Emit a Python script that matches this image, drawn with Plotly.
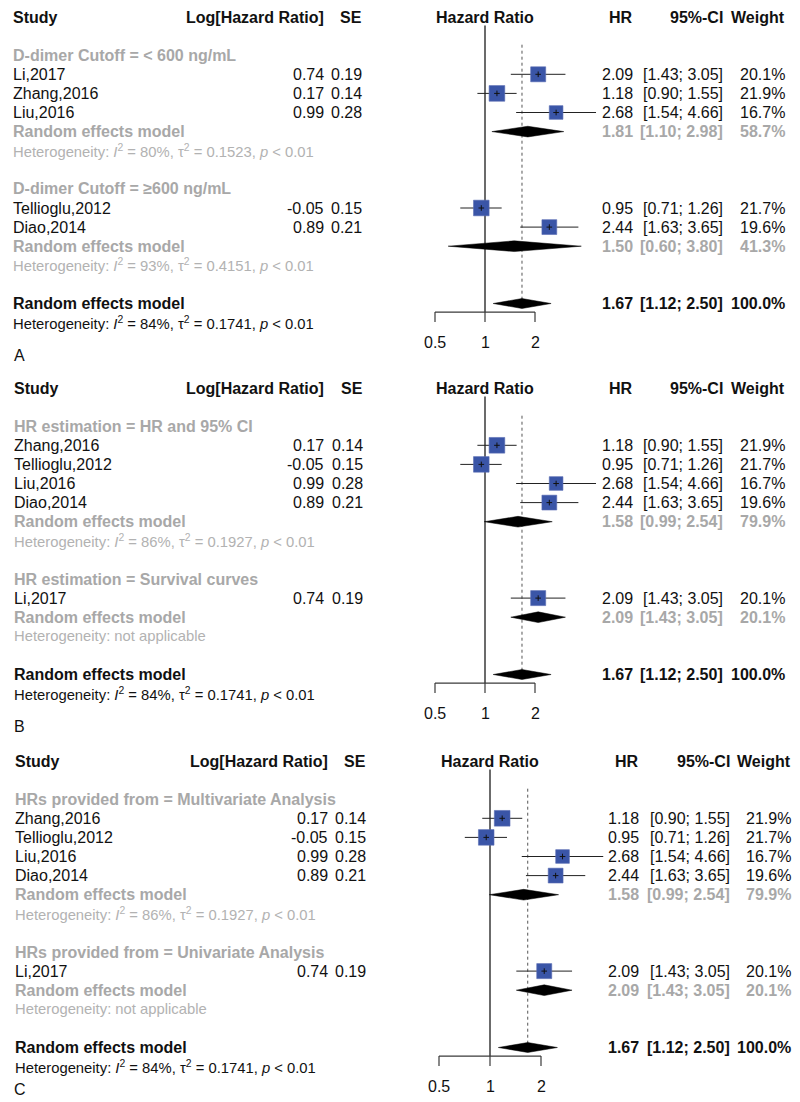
import numpy as np
import plotly.graph_objects as go

W, H = 800, 1102
FONT = "Liberation Sans, Arial, Helvetica, sans-serif"

# study level data
study = ["Li,2017", "Zhang,2016", "Liu,2016", "Tellioglu,2012", "Diao,2014"]
log_hr = [0.74, 0.17, 0.99, -0.05, 0.89]
se = [0.19, 0.14, 0.28, 0.15, 0.21]
hr = [2.09, 1.18, 2.68, 0.95, 2.44]
ci_low = [1.43, 0.90, 1.54, 0.71, 1.63]
ci_high = [3.05, 1.55, 4.66, 1.26, 3.65]
weight = [20.1, 21.9, 16.7, 21.7, 19.6]

# panel A: D-dimer cutoff
a_groups = ["D-dimer Cutoff = < 600 ng/mL", "D-dimer Cutoff = ≥600 ng/mL"]
a_members = [["Li,2017", "Zhang,2016", "Liu,2016"], ["Tellioglu,2012", "Diao,2014"]]
a_hr = [1.81, 1.50]
a_lo = [1.10, 0.60]
a_hi = [2.98, 3.80]
a_w = [58.7, 41.3]
a_i2 = ["80%", "93%"]
a_tau2 = ["0.1523", "0.4151"]

# panel B: HR estimation
b_groups = ["HR estimation = HR and 95% CI", "HR estimation = Survival curves"]
b_members = [["Zhang,2016", "Tellioglu,2012", "Liu,2016", "Diao,2014"], ["Li,2017"]]
b_hr = [1.58, 2.09]
b_lo = [0.99, 1.43]
b_hi = [2.54, 3.05]
b_w = [79.9, 20.1]
b_i2 = ["86%", None]
b_tau2 = ["0.1927", None]

# panel C: HRs provided from
c_groups = ["HRs provided from = Multivariate Analysis", "HRs provided from = Univariate Analysis"]
c_members = [["Zhang,2016", "Tellioglu,2012", "Liu,2016", "Diao,2014"], ["Li,2017"]]
c_hr = [1.58, 2.09]
c_lo = [0.99, 1.43]
c_hi = [2.54, 3.05]
c_w = [79.9, 20.1]
c_i2 = ["86%", None]
c_tau2 = ["0.1927", None]

# overall random effects model
all_hr, all_lo, all_hi, all_w = 1.67, 1.12, 2.50, 100.0
all_i2, all_tau2 = "84%", "0.1741"

axis_ticks = [0.5, 1, 2]

BLACK = "#111111"
GRAY = "#a8a8a8"
HETGRAY = "#b2b2b2"
BLUE = "#3a55a7"

STEP = 19.1  # px per row

panels = [
    dict(tag="A", groups=a_groups, members=a_members, phr=a_hr, plo=a_lo, phi=a_hi, pw=a_w,
         i2=a_i2, tau2=a_tau2, top=0, bottom=367, head=17, one=485, octave=50,
         cols=dict(study=11, loghr=326, se=364, hr=635, ci=725, w=787)),
    dict(tag="B", groups=b_groups, members=b_members, phr=b_hr, plo=b_lo, phi=b_hi, pw=b_w,
         i2=b_i2, tau2=b_tau2, top=367, bottom=734, head=388, one=485, octave=50,
         cols=dict(study=12, loghr=326, se=365, hr=635, ci=725, w=787)),
    dict(tag="C", groups=c_groups, members=c_members, phr=c_hr, plo=c_lo, phi=c_hi, pw=c_w,
         i2=c_i2, tau2=c_tau2, top=734, bottom=1102, head=761, one=490, octave=51,
         cols=dict(study=13, loghr=330, se=368, hr=641, ci=732, w=793)),
]


def het_text(i2, tau2):
    if i2 is None:
        return "Heterogeneity: not applicable"
    return ("Heterogeneity: <i>I</i><sup>2</sup> = " + i2 + ", τ<sup>2</sup> = " + tau2
            + ", <i>p</i> &lt; 0.01")


def esc(s):
    return s.replace("<", "&lt;")


fig = go.Figure()
annots = []

for k, p in enumerate(panels):
    sfx = "" if k == 0 else str(k + 1)
    xa, ya = "x" + sfx, "y" + sfx
    c = p["cols"]

    def txt(x_px, row, s, anchor="left", color=BLACK, size=16, bold=False):
        if bold:
            s = "<b>" + s + "</b>"
        annots.append(dict(x=x_px / W, xref="paper", y=row, yref=ya, text=s, showarrow=False,
                           xanchor=anchor, yanchor="middle",
                           font=dict(family=FONT, size=size, color=color)))

    # header
    txt(c["study"], 0, "Study", bold=True)
    txt(c["loghr"], 0, "Log[Hazard Ratio]", "right", bold=True)
    txt(c["se"], 0, "SE", "right", bold=True)
    txt(p["one"], 0, "Hazard Ratio", "center", bold=True)
    txt(c["hr"], 0, "HR", "right", bold=True)
    txt(c["ci"], 0, "95%-CI", "right", bold=True)
    txt(c["w"], 0, "Weight", "right", bold=True)

    st_rows, st_idx = [], []
    d_x, d_y = [], []
    r = 2
    for g in range(len(p["groups"])):
        txt(c["study"], r, esc(p["groups"][g]), color=GRAY, bold=True)
        r += 1
        for name in p["members"][g]:
            i = study.index(name)
            st_rows.append(r)
            st_idx.append(i)
            txt(c["study"], r, name)
            txt(c["loghr"], r, f"{log_hr[i]:.2f}", "right")
            txt(c["se"], r, f"{se[i]:.2f}", "right")
            txt(c["hr"], r, f"{hr[i]:.2f}", "right")
            txt(c["ci"], r, f"[{ci_low[i]:.2f}; {ci_high[i]:.2f}]", "right")
            txt(c["w"], r, f"{weight[i]:.1f}%", "right")
            r += 1
        txt(c["study"], r, "Random effects model", color=GRAY, bold=True)
        txt(c["hr"], r, f"{p['phr'][g]:.2f}", "right", color=GRAY, bold=True)
        txt(c["ci"], r, f"[{p['plo'][g]:.2f}; {p['phi'][g]:.2f}]", "right", color=GRAY, bold=True)
        txt(c["w"], r, f"{p['pw'][g]:.1f}%", "right", color=GRAY, bold=True)
        d_x += [p["plo"][g], p["phr"][g], p["phi"][g], p["phr"][g], p["plo"][g], None]
        d_y += [r, r - 0.28, r, r + 0.28, r, None]
        r += 1
        txt(c["study"], r, het_text(p["i2"][g], p["tau2"][g]), color=HETGRAY, size=14.8)
        r += 2

    # overall
    txt(c["study"], r, "Random effects model", bold=True)
    txt(c["hr"], r, f"{all_hr:.2f}", "right", bold=True)
    txt(c["ci"], r, f"[{all_lo:.2f}; {all_hi:.2f}]", "right", bold=True)
    txt(c["w"], r, f"{all_w:.1f}%", "right", bold=True)
    d_x += [all_lo, all_hr, all_hi, all_hr, all_lo, None]
    d_y += [r, r - 0.26, r, r + 0.26, r, None]
    overall_row = r
    txt(c["study"], r + 1, het_text(all_i2, all_tau2), size=14.8)
    txt(12, r + 2.7 if k < 2 else r + 2.2, p["tag"])

    axis_row = overall_row + 0.45
    tick_end = axis_row + 0.52

    # reference line at HR = 1
    fig.add_trace(go.Scatter(x=[1, 1], y=[0.45, axis_row], mode="lines",
                             line=dict(color="#3a3a3a", width=1.5), xaxis=xa, yaxis=ya))
    # dotted line at pooled estimate
    fig.add_trace(go.Scatter(x=[all_hr, all_hr], y=[1.45, overall_row - 0.2], mode="lines",
                             line=dict(color="#555555", width=1, dash="dot"), xaxis=xa, yaxis=ya))
    # confidence intervals
    cx, cy = [], []
    for rr, i in zip(st_rows, st_idx):
        cx += [ci_low[i], ci_high[i], None]
        cy += [rr, rr, None]
    fig.add_trace(go.Scatter(x=cx, y=cy, mode="lines", line=dict(color="#222222", width=1),
                             xaxis=xa, yaxis=ya))
    # weighted squares
    fig.add_trace(go.Scatter(x=[hr[i] for i in st_idx], y=st_rows, mode="markers",
                             marker=dict(symbol="square", color=BLUE, opacity=1,
                                         size=[3.35 * np.sqrt(weight[i]) for i in st_idx],
                                         line=dict(color="#5b6db3", width=0.6)),
                             xaxis=xa, yaxis=ya))
    fig.add_trace(go.Scatter(x=[hr[i] for i in st_idx], y=st_rows, mode="markers",
                             marker=dict(symbol="cross-thin", size=4, opacity=1,
                                         line=dict(color="#111111", width=1)),
                             xaxis=xa, yaxis=ya))
    # diamonds
    fig.add_trace(go.Scatter(x=d_x, y=d_y, mode="lines", fill="toself", fillcolor="#000000",
                             line=dict(color="#000000", width=0.5), xaxis=xa, yaxis=ya))
    # x axis line and ticks
    ax_x = [axis_ticks[0], axis_ticks[-1], None]
    ax_y = [axis_row, axis_row, None]
    for t in axis_ticks:
        ax_x += [t, t, None]
        ax_y += [axis_row, tick_end, None]
    fig.add_trace(go.Scatter(x=ax_x, y=ax_y, mode="lines", line=dict(color="#3a3a3a", width=1.2),
                             xaxis=xa, yaxis=ya))
    for t in axis_ticks:
        annots.append(dict(x=np.log10(t), xref=xa, y=overall_row + 2.05, yref=ya,
                           text=f"{t:g}", showarrow=False, xanchor="center", yanchor="middle",
                           font=dict(family=FONT, size=16, color=BLACK)))

    # axes: log x mapped so that HR=1 sits at p["one"] px, one doubling = p["octave"] px
    ppd = p["octave"] / np.log10(2)
    xr = [-p["one"] / ppd, (W - p["one"]) / ppd]
    yr = [(p["bottom"] - p["head"]) / STEP, (p["top"] - p["head"]) / STEP]
    dom = [1 - p["bottom"] / H, 1 - p["top"] / H]
    xkey = "xaxis" if k == 0 else f"xaxis{k + 1}"
    ykey = "yaxis" if k == 0 else f"yaxis{k + 1}"
    fig.update_layout(**{
        xkey: dict(type="log", range=xr, domain=[0, 1], anchor=ya, visible=False, fixedrange=True),
        ykey: dict(range=yr, domain=dom, anchor=xa, visible=False, fixedrange=True),
    })

fig.update_layout(
    width=W, height=H,
    margin=dict(l=0, r=0, t=0, b=0),
    paper_bgcolor="white", plot_bgcolor="white",
    showlegend=False,
    hovermode=False,
    annotations=annots,
)

# the page's default body margin would push the 800px figure off the window
fig.write_html("out.html", config={"displayModeBar": False},
               post_script="document.body.style.margin = '0';")
